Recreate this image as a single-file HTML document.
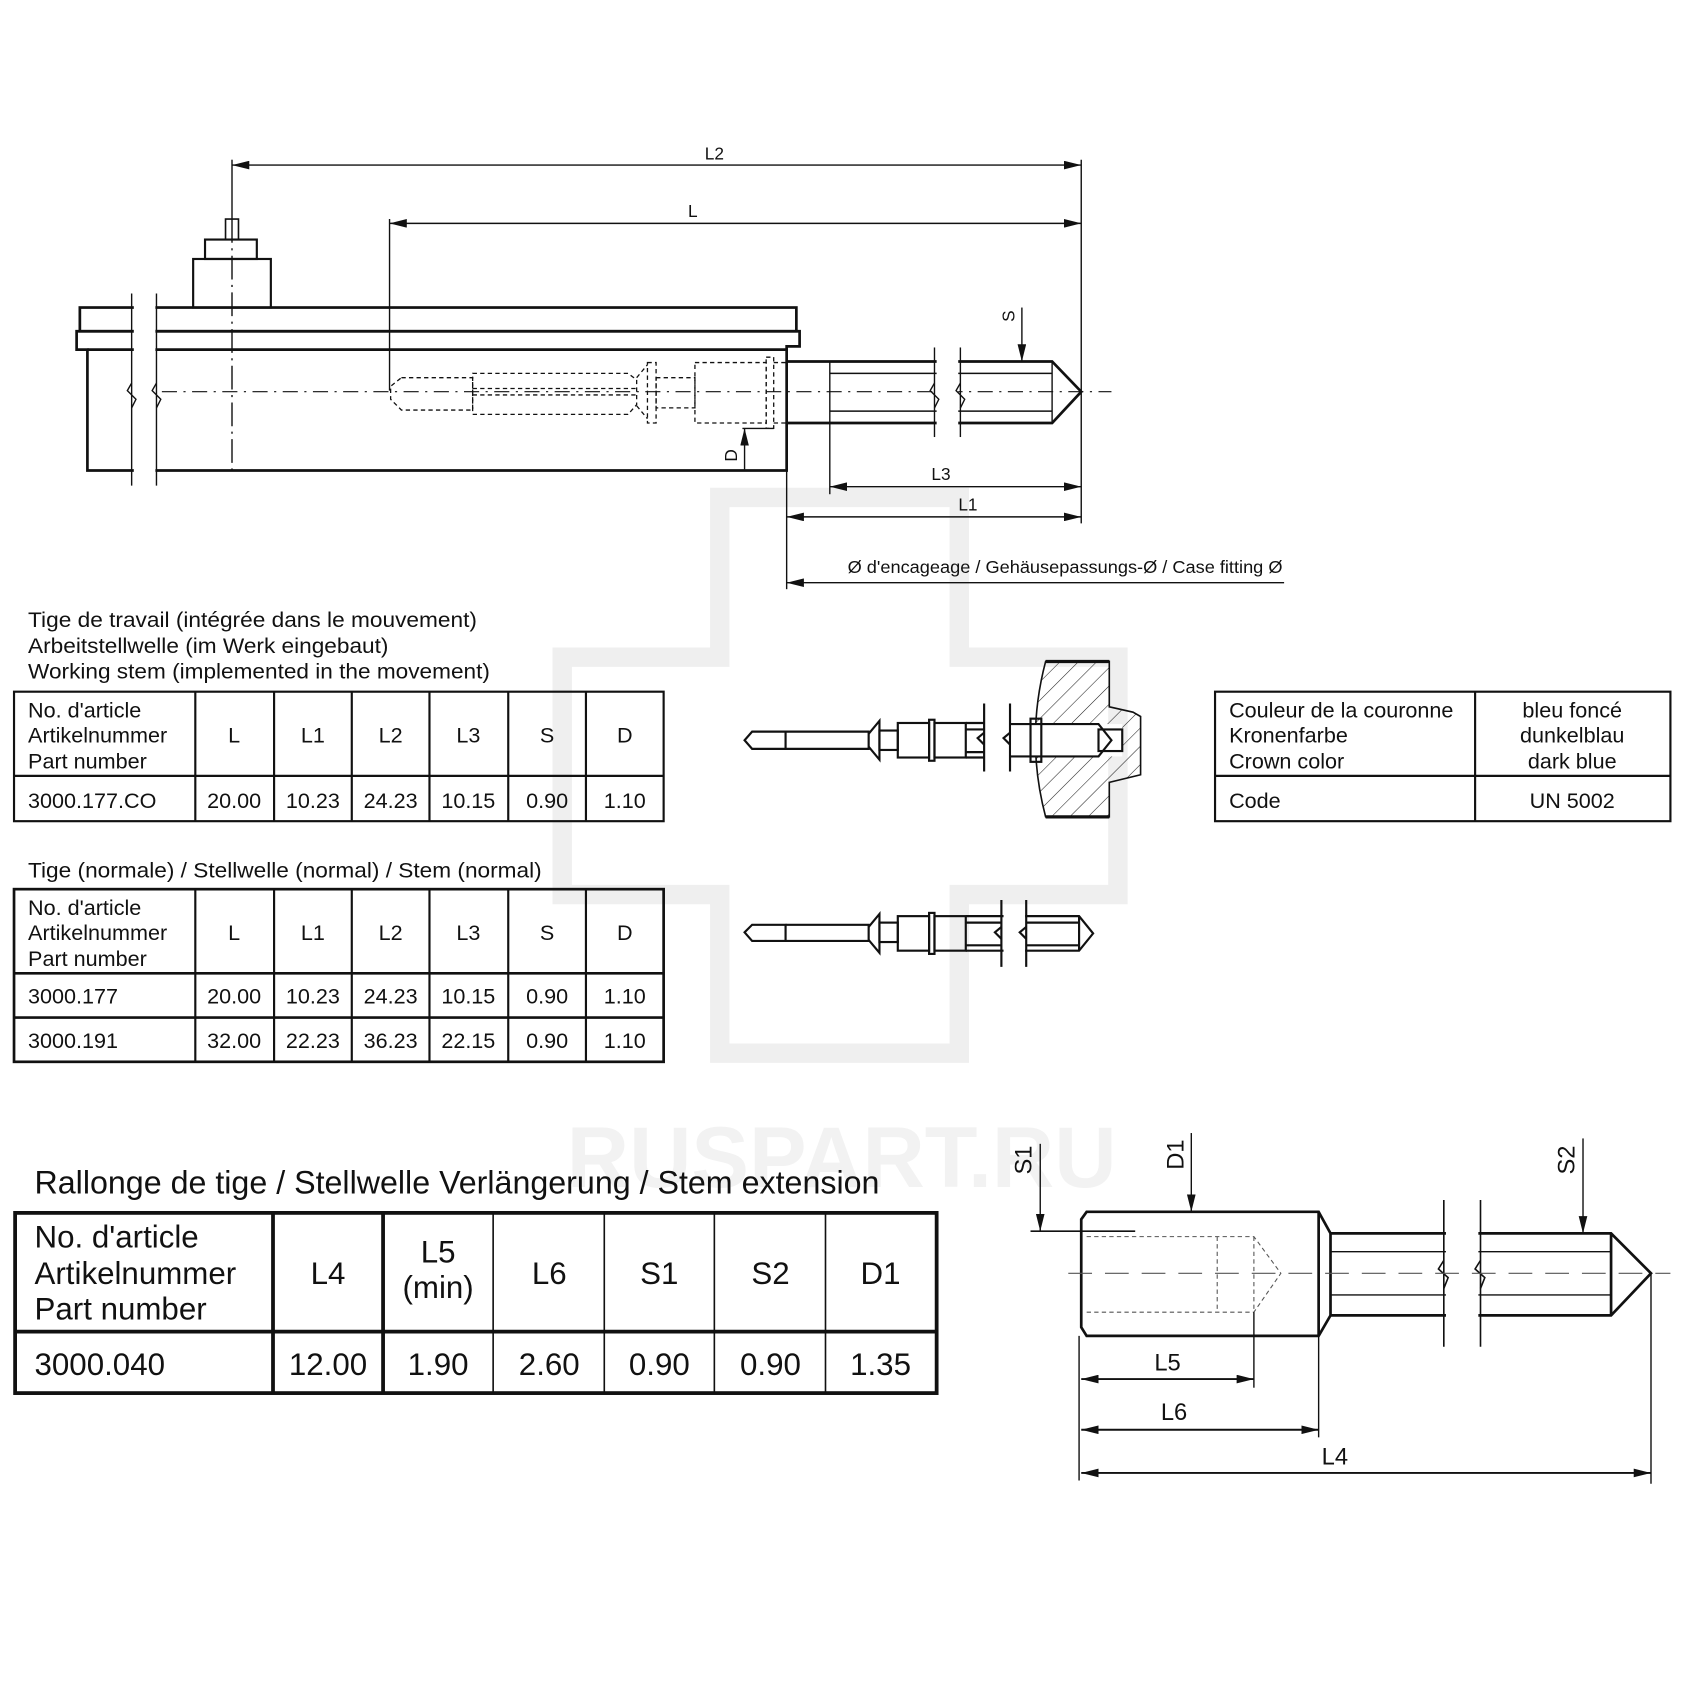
<!DOCTYPE html>
<html><head><meta charset="utf-8"><style>
html,body{margin:0;padding:0;background:#fff}
svg{display:block}
text{font-family:"Liberation Sans Narrow","Liberation Sans",sans-serif;fill:#111}
</style></head><body>
<svg width="1692" height="1692" viewBox="0 0 1568 1568" xmlns="http://www.w3.org/2000/svg">
<defs>
<marker id="ae" viewBox="0 0 16 8" refX="16" refY="4" markerWidth="16" markerHeight="8" markerUnits="userSpaceOnUse" orient="auto"><path d="M0,0 L16,4 L0,8 Z" fill="#111"/></marker>
<marker id="as" viewBox="0 0 16 8" refX="0" refY="4" markerWidth="16" markerHeight="8" markerUnits="userSpaceOnUse" orient="auto"><path d="M16,0 L0,4 L16,8 Z" fill="#111"/></marker>
<pattern id="hatch" width="12" height="12" patternUnits="userSpaceOnUse" patternTransform="rotate(45)"><line x1="0" y1="0" x2="0" y2="12" stroke="#222" stroke-width="1"/></pattern>
</defs>
<g fill="none" stroke="#efefef" stroke-width="18">
<path d="M667,461 H889 V609 H1036 V829 H889 V976 H667 V829 H521 V609 H667 Z"/>
</g>
<text x="780" y="1100" font-size="80" font-weight="bold" text-anchor="middle" style="fill:#f2f2f2">RUSPART.RU</text>

<g stroke="#111" fill="none" stroke-width="1.3">
<line x1="215" y1="153" x2="1002" y2="153" marker-start="url(#as)" marker-end="url(#ae)"/>
<line x1="361" y1="207" x2="1002" y2="207" marker-start="url(#as)" marker-end="url(#ae)"/>
<line x1="1002" y1="148" x2="1002" y2="485"/>
<line x1="361" y1="203" x2="361" y2="362"/>
<line x1="215" y1="148" x2="215" y2="203"/>
<line x1="215" y1="203" x2="215" y2="440" stroke-dasharray="22,5,2,5"/>
<rect x="209" y="203" width="12" height="19" stroke-width="1.5"/>
<rect x="190" y="222" width="48" height="18" stroke-width="2"/>
<rect x="179" y="240" width="72" height="45" stroke-width="2"/>
<rect x="74" y="285" width="664" height="22" stroke-width="2.5"/>
<path d="M71,307 H741 V321 H729 V436 H81 V324 H71 Z" stroke-width="2.5"/>
<line x1="81" y1="324" x2="729" y2="324" stroke-width="2.5"/>
<rect x="124" y="270" width="20" height="180" fill="#fff" stroke="none"/>
<line x1="122" y1="272" x2="122" y2="450"/><line x1="145" y1="272" x2="145" y2="450"/>
<path d="M122,355 L118,362 L126,370 L122,378 M145,355 L141,362 L149,370 L145,378"/>
<line x1="150" y1="363" x2="1030" y2="363" stroke-dasharray="14,6,2,6" stroke-width="1"/>
<path d="M729,335 H975 L1002,363 L975,392 H729" stroke-width="2.5"/>
<line x1="769" y1="346" x2="975" y2="346"/><line x1="769" y1="381" x2="975" y2="381"/>
<line x1="769" y1="335" x2="769" y2="392"/><line x1="975" y1="335" x2="975" y2="392"/>
<rect x="868" y="320" width="20" height="88" fill="#fff" stroke="none"/>
<line x1="866" y1="322" x2="866" y2="405"/><line x1="890" y1="322" x2="890" y2="405"/>
<path d="M866,355 L862,362 L870,370 L866,378 M890,355 L886,362 L894,370 L890,378"/>
<g stroke-dasharray="4,3" stroke-width="1.2">
<path d="M372,350 H438 V380 H372 L362,370 V358 Z"/>
<path d="M438,346 H582 L590,352 V375 L582,384 H438 Z"/>
<line x1="438" y1="360" x2="590" y2="360"/><line x1="438" y1="366" x2="590" y2="366"/>
<path d="M590,350 L600,338 M590,376 L600,388"/>
<rect x="600" y="336" width="8" height="56"/>
<rect x="608" y="350" width="36" height="28"/>
<rect x="644" y="336" width="66" height="56"/>
<rect x="710" y="331" width="7" height="66"/>
<line x1="717" y1="336" x2="729" y2="336"/><line x1="717" y1="392" x2="729" y2="392"/>
</g>
<line x1="947" y1="285" x2="947" y2="335" marker-end="url(#ae)"/>
<line x1="690" y1="435" x2="690" y2="397" marker-end="url(#ae)"/>
<line x1="688" y1="397" x2="717" y2="397"/>
<line x1="769" y1="392" x2="769" y2="458"/>
<line x1="769" y1="451" x2="1002" y2="451" marker-start="url(#as)" marker-end="url(#ae)"/>
<line x1="729" y1="479" x2="1002" y2="479" marker-start="url(#as)" marker-end="url(#ae)"/>
<line x1="729" y1="436" x2="729" y2="546"/>
<line x1="729" y1="540" x2="1190" y2="540" marker-start="url(#as)"/>

<g stroke-width="2">
<path d="M697,678 H728 V694 H697 L690,686 Z"/>
<path d="M728,678 H805 V694 H728"/>
<path d="M805,680 L815,668 V704 L805,692"/>
<rect x="815" y="677" width="17" height="18"/>
<rect x="832" y="670" width="29" height="32"/>
<rect x="861" y="667" width="5" height="38"/>
<rect x="866" y="670" width="29" height="32"/>
<path d="M895,670 H912 M895,702 H912 M895,676 H912 M895,697 H912"/>
<line x1="912" y1="652" x2="912" y2="715"/><line x1="936" y1="652" x2="936" y2="715"/>
<path d="M912,679 L906,684 L912,690 M936,679 L930,684 L936,690"/>
</g>
<path d="M969,613 H1028 V655 L1050,660 L1057,664 V718 L1028,725 V757 H969 Q950,685 969,613 Z" fill="url(#hatch)" stroke-width="1.5"/>
<line x1="969" y1="613" x2="1028" y2="613" stroke-width="3"/>
<line x1="969" y1="757" x2="1028" y2="757" stroke-width="3"/>
<rect x="937" y="671" width="103" height="30" fill="#fff" stroke="none"/>
<g stroke-width="2">
<path d="M936,671 H1018 L1030,686 L1018,701 H936"/>
<rect x="1018" y="676" width="22" height="20"/>
<rect x="955" y="666" width="10" height="40"/>
</g>

<g stroke-width="2">
<path d="M697,857 H728 V872 H697 L690,864 Z"/>
<path d="M728,857 H805 V872 H728"/>
<path d="M805,859 L815,847 V883 L805,871"/>
<rect x="815" y="855" width="17" height="18"/>
<rect x="832" y="849" width="29" height="32"/>
<rect x="861" y="846" width="5" height="38"/>
<rect x="866" y="849" width="29" height="32"/>
<path d="M895,849 H1000 L1013,865 L1000,881 H895 M895,855 H928 M895,876 H928 M951,855 H1000 M951,876 H1000 M1000,849 V881"/>
<rect x="930" y="840" width="20" height="50" fill="#fff" stroke="none"/>
<line x1="928" y1="834" x2="928" y2="896"/><line x1="951" y1="834" x2="951" y2="896"/>
<path d="M928,859 L922,864 L928,870 M951,859 L945,864 L951,870"/>
</g>

<g stroke-width="2.5">
<path d="M1007,1123 H1222 L1233,1143 V1219 L1222,1238 H1007 L1002,1230 V1130 Z"/>
<line x1="1222" y1="1123" x2="1222" y2="1238"/>
<path d="M1233,1143 H1493 L1530,1180 L1493,1219 H1233"/>
<line x1="1493" y1="1143" x2="1493" y2="1219"/>
</g>
<line x1="1233" y1="1160" x2="1493" y2="1160" stroke-width="1.3"/>
<line x1="1233" y1="1200" x2="1493" y2="1200" stroke-width="1.3"/>
<rect x="1340" y="1110" width="30" height="140" fill="#fff" stroke="none"/>
<line x1="1338" y1="1112" x2="1338" y2="1248" stroke-width="1.5"/><line x1="1372" y1="1112" x2="1372" y2="1248" stroke-width="1.5"/>
<path d="M1338,1168 L1333,1176 L1342,1184 L1338,1194 M1372,1168 L1367,1176 L1376,1184 L1372,1194" stroke-width="1.5"/>
<g stroke-dasharray="4,3" stroke-width="1" stroke="#555">
<path d="M1007,1146 H1162 L1187,1180 L1162,1216 H1007"/>
<line x1="1128" y1="1146" x2="1128" y2="1216"/><line x1="1162" y1="1146" x2="1162" y2="1216"/>
</g>
<line x1="990" y1="1180" x2="1548" y2="1180" stroke-dasharray="22,12" stroke-width="1" stroke="#555"/>
<line x1="964" y1="1060" x2="964" y2="1141" marker-end="url(#ae)"/>
<line x1="955" y1="1141" x2="1052" y2="1141" stroke-width="1.5"/>
<line x1="1104" y1="1050" x2="1104" y2="1123" marker-end="url(#ae)"/>
<line x1="1467" y1="1055" x2="1467" y2="1143" marker-end="url(#ae)"/>
<line x1="1000" y1="1238" x2="1000" y2="1372"/>
<line x1="1162" y1="1216" x2="1162" y2="1286"/>
<line x1="1222" y1="1238" x2="1222" y2="1332"/>
<line x1="1530" y1="1180" x2="1530" y2="1375"/>
<line x1="1002" y1="1278" x2="1162" y2="1278" marker-start="url(#as)" marker-end="url(#ae)" stroke-width="1.8"/>
<line x1="1002" y1="1325" x2="1222" y2="1325" marker-start="url(#as)" marker-end="url(#ae)" stroke-width="1.8"/>
<line x1="1002" y1="1365" x2="1530" y2="1365" marker-start="url(#as)" marker-end="url(#ae)" stroke-width="1.8"/>

<g stroke-width="2">
<rect x="13" y="641" width="602" height="120"/>
<line x1="13" y1="719" x2="615" y2="719"/>
<path d="M181,641V761 M254,641V761 M326,641V761 M398,641V761 M471,641V761 M543,641V761"/>
<rect x="13" y="824" width="602" height="160" stroke-width="2.5"/>
<line x1="13" y1="902" x2="615" y2="902" stroke-width="2.5"/>
<line x1="13" y1="943" x2="615" y2="943" stroke-width="2.5"/>
<path d="M181,824V984 M254,824V984 M326,824V984 M398,824V984 M471,824V984 M543,824V984"/>
<rect x="1126" y="641" width="422" height="120"/>
<line x1="1126" y1="719" x2="1548" y2="719"/>
<line x1="1367" y1="641" x2="1367" y2="761"/>
</g>
<g stroke-width="3.5">
<rect x="14" y="1124" width="854" height="167"/>
<line x1="14" y1="1234" x2="868" y2="1234"/>
<path d="M253,1124V1291 M355,1124V1291"/>
</g>
<path d="M457,1124V1291 M560,1124V1291 M662,1124V1291 M765,1124V1291" stroke-width="1.5"/>
</g>

<g font-size="16" text-anchor="middle">
<text x="662" y="148">L2</text>
<text x="642" y="201">L</text>
<text x="872" y="445">L3</text>
<text x="897" y="473">L1</text>
<text x="940" y="293" transform="rotate(-90 940 293)">S</text>
<text x="683" y="422" transform="rotate(-90 683 422)">D</text>
<text x="987" y="531" textLength="403" lengthAdjust="spacingAndGlyphs">Ø d'encageage / Gehäusepassungs-Ø / Case fitting Ø</text>
</g>

<g font-size="20">
<text x="26" y="581" textLength="416" lengthAdjust="spacingAndGlyphs">Tige de travail (intégrée dans le mouvement)</text>
<text x="26" y="605" textLength="334" lengthAdjust="spacingAndGlyphs">Arbeitstellwelle (im Werk eingebaut)</text>
<text x="26" y="629" textLength="428" lengthAdjust="spacingAndGlyphs">Working stem (implemented in the movement)</text>
<text x="26" y="813" textLength="476" lengthAdjust="spacingAndGlyphs">Tige (normale) / Stellwelle (normal) / Stem (normal)</text>
<text x="26" y="665">No. d'article</text>
<text x="26" y="688">Artikelnummer</text>
<text x="26" y="712">Part number</text>
<text x="26" y="749">3000.177.CO</text>
<text x="26" y="848">No. d'article</text>
<text x="26" y="871">Artikelnummer</text>
<text x="26" y="895">Part number</text>
<text x="26" y="930">3000.177</text>
<text x="26" y="971">3000.191</text>
<text x="1139" y="665">Couleur de la couronne</text>
<text x="1139" y="688">Kronenfarbe</text>
<text x="1139" y="712">Crown color</text>
<text x="1139" y="749">Code</text>
</g>
<g font-size="20" text-anchor="middle">
<text x="217" y="688">L</text><text x="290" y="688">L1</text><text x="362" y="688">L2</text><text x="434" y="688">L3</text><text x="507" y="688">S</text><text x="579" y="688">D</text>
<text x="217" y="749">20.00</text><text x="290" y="749">10.23</text><text x="362" y="749">24.23</text><text x="434" y="749">10.15</text><text x="507" y="749">0.90</text><text x="579" y="749">1.10</text>
<text x="217" y="871">L</text><text x="290" y="871">L1</text><text x="362" y="871">L2</text><text x="434" y="871">L3</text><text x="507" y="871">S</text><text x="579" y="871">D</text>
<text x="217" y="930">20.00</text><text x="290" y="930">10.23</text><text x="362" y="930">24.23</text><text x="434" y="930">10.15</text><text x="507" y="930">0.90</text><text x="579" y="930">1.10</text>
<text x="217" y="971">32.00</text><text x="290" y="971">22.23</text><text x="362" y="971">36.23</text><text x="434" y="971">22.15</text><text x="507" y="971">0.90</text><text x="579" y="971">1.10</text>
<text x="1457" y="665">bleu foncé</text>
<text x="1457" y="688">dunkelblau</text>
<text x="1457" y="712">dark blue</text>
<text x="1457" y="749">UN 5002</text>
</g>

<text x="32" y="1106" font-size="30" textLength="783" lengthAdjust="spacingAndGlyphs">Rallonge de tige / Stellwelle Verlängerung / Stem extension</text>
<g font-size="29">
<text x="32" y="1156">No. d'article</text>
<text x="32" y="1190">Artikelnummer</text>
<text x="32" y="1223">Part number</text>
<text x="32" y="1274">3000.040</text>
</g>
<g font-size="29" text-anchor="middle">
<text x="304" y="1190">L4</text>
<text x="406" y="1170">L5</text>
<text x="406" y="1203">(min)</text>
<text x="509" y="1190">L6</text>
<text x="611" y="1190">S1</text>
<text x="714" y="1190">S2</text>
<text x="816" y="1190">D1</text>
<text x="304" y="1274">12.00</text>
<text x="406" y="1274">1.90</text>
<text x="509" y="1274">2.60</text>
<text x="611" y="1274">0.90</text>
<text x="714" y="1274">0.90</text>
<text x="816" y="1274">1.35</text>
</g>
<g font-size="22" text-anchor="middle">
<text x="1082" y="1270">L5</text>
<text x="1088" y="1316">L6</text>
<text x="1237" y="1357">L4</text>
<text x="956" y="1075" transform="rotate(-90 956 1075)">S1</text>
<text x="1097" y="1070" transform="rotate(-90 1097 1070)">D1</text>
<text x="1459" y="1075" transform="rotate(-90 1459 1075)">S2</text>
</g>
</svg>
</body></html>
